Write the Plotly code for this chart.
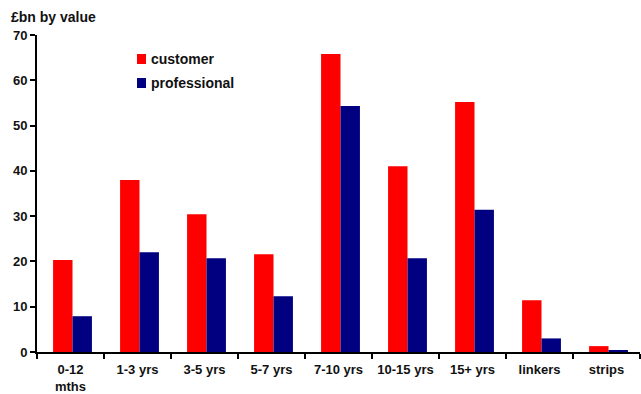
import plotly.graph_objects as go

categories = ["0-12<br>mths", "1-3 yrs", "3-5 yrs", "5-7 yrs", "7-10 yrs",
              "10-15 yrs", "15+ yrs", "linkers", "strips"]
customer = [20.3, 38.0, 30.4, 21.6, 65.8, 41.0, 55.2, 11.4, 1.3]
professional = [7.9, 22.0, 20.7, 12.3, 54.3, 20.7, 31.4, 3.0, 0.4]
y_ticks = [0, 10, 20, 30, 40, 50, 60, 70]
series_names = ["customer", "professional"]
series_colors = ["#ff0000", "#000080"]

W, H = 641, 394
L, R, T, B = 37, 1, 35, 42
plot_w, plot_h = W - L - R, H - T - B


def px_x(x):
    return (x - L) / plot_w


def px_y(y):
    return (H - B - y) / plot_h


fig = go.Figure()
for name, vals, color, off in zip(series_names, [customer, professional],
                                  series_colors, [-0.26, 0.03]):
    fig.add_trace(go.Bar(x=categories, y=vals, name=name, width=0.29,
                         offset=off,
                         marker=dict(color=color, line=dict(width=0))))

fig.update_layout(
    width=W, height=H,
    margin=dict(l=L, r=R, t=T, b=B),
    paper_bgcolor="white", plot_bgcolor="white",
    barmode="group",
    font=dict(family="Liberation Sans, Arial, sans-serif", size=13,
              color="#111111", weight="bold"),
    showlegend=False,
)
fig.update_yaxes(range=[0, 70], tickvals=y_ticks, showgrid=False,
                 zeroline=False, showline=True, linecolor="black", linewidth=2,
                 ticks="outside", ticklen=5, tickwidth=2, tickcolor="black")
fig.update_xaxes(showgrid=False, showline=True, linecolor="black", linewidth=2,
                 ticks="outside", tickson="boundaries", ticklen=5, tickwidth=2,
                 tickcolor="black", tickangle=0, ticklabelstandoff=4)

# key: coloured squares with series names
for i, (name, color) in enumerate(zip(series_names, series_colors)):
    cy = 59 + 24 * i
    fig.add_shape(type="rect", xref="paper", yref="paper",
                  x0=px_x(137), x1=px_x(146), y0=px_y(cy + 5), y1=px_y(cy - 5),
                  fillcolor=color, line=dict(width=0))
    fig.add_annotation(text=name, xref="paper", yref="paper",
                       x=px_x(149), y=px_y(cy), xanchor="left",
                       yanchor="middle", showarrow=False,
                       font=dict(size=14))

fig.add_annotation(text="£bn by value", xref="paper", yref="paper",
                   x=px_x(9), y=px_y(17), xanchor="left", yanchor="middle",
                   showarrow=False, font=dict(size=14))

fig.write_html("out.html")
